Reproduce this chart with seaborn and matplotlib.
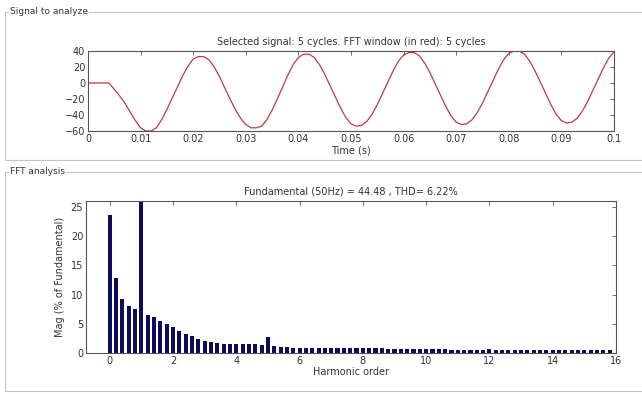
import numpy as np
import pandas as pd
import seaborn as sns
import matplotlib.pyplot as plt
from matplotlib.lines import Line2D
from matplotlib.ticker import FuncFormatter

# ---- data ----
# signal sampled every 1 ms, 0 .. 0.1 s
time_s = np.linspace(0, 0.1, 101)
signal = [
    0, 0, 0, 0, 0, -8, -16, -25, -36, -47,
    -56, -60, -60, -56, -46, -33, -19, -5, 9, 21,
    30, 33, 33, 29, 20, 8, -6, -20, -33, -44,
    -52, -56, -56, -54, -46, -34, -20, -5, 10, 23,
    32, 36, 36, 32, 23, 11, -3, -17, -31, -43,
    -51, -54, -53, -48, -39, -27, -13, 1, 15, 27,
    35, 38, 38, 34, 25, 13, -1, -15, -29, -41,
    -49, -52, -51, -46, -37, -25, -11, 3, 17, 29,
    37, 40, 40, 36, 27, 15, 1, -13, -27, -39,
    -47, -50, -49, -44, -35, -23, -9, 5, 19, 31,
    39,
]

# harmonic orders 0 .. 15.8 in steps of 0.2
harmonic_order = np.round(np.linspace(0, 15.8, 80), 1)
magnitude = [
    23.6, 12.8, 9.2, 8.1, 7.6, 100, 6.5, 6.1, 5.4, 4.9,
    4.4, 3.8, 3.3, 2.9, 2.4, 2.1, 1.9, 1.7, 1.6, 1.6,
    1.6, 1.5, 1.5, 1.5, 1.4, 2.7, 1.2, 1.1, 1.0, 0.9,
    0.9, 0.9, 0.9, 0.9, 0.85, 0.85, 0.85, 0.9, 0.9, 0.9,
    0.85, 0.8, 0.8, 0.8, 0.75, 0.7, 0.7, 0.7, 0.7, 0.7,
    0.75, 0.7, 0.65, 0.6, 0.55, 0.55, 0.55, 0.55, 0.5, 0.45,
    0.6, 0.45, 0.5, 0.55, 0.55, 0.55, 0.55, 0.5, 0.5, 0.45,
    0.55, 0.45, 0.45, 0.45, 0.45, 0.45, 0.45, 0.45, 0.45, 0.45,
]

signal_title = "Selected signal: 5 cycles. FFT window (in red): 5 cycles"
fft_title = "Fundamental (50Hz) = 44.48 , THD= 6.22%"

# ---- style ----
sns.set_theme(style="white")
plt.rcParams["font.family"] = ["DejaVu Sans"]
plt.rcParams["axes.edgecolor"] = "#555555"
plt.rcParams["axes.linewidth"] = 0.8

txt = "#333333"
fs = 7

fig = plt.figure(figsize=(6.42, 3.94), dpi=100)
fig.patch.set_facecolor("white")

# group boxes
box_col = "#c4c4c4"
def group_box(y_top, y_bot, label):
    fig.add_artist(Line2D([5/642, 1], [1 - y_top/394] * 2, color=box_col, lw=0.8))
    fig.add_artist(Line2D([5/642] * 2, [1 - y_top/394, 1 - y_bot/394], color=box_col, lw=0.8))
    fig.add_artist(Line2D([5/642, 1], [1 - y_bot/394] * 2, color=box_col, lw=0.8))
    fig.text(10/642, 1 - y_top/394, label, fontsize=6.5, color=txt, va="center", ha="left",
             bbox=dict(facecolor="white", edgecolor="none", pad=1))

group_box(12, 160, "Signal to analyze")
group_box(172, 391, "FFT analysis")

def matlab_axes(ax):
    ax.tick_params(direction="in", top=True, right=True, length=3, width=0.6,
                   labelsize=fs, labelcolor=txt, colors="#555555", pad=2)
    for s in ax.spines.values():
        s.set_visible(True)
    ax.set_facecolor("white")

# ---- signal ----
ax1 = fig.add_axes([88/642, 1 - 131/394, 526/642, 80/394])
sig_df = pd.DataFrame({"t": time_s, "v": signal})
sns.lineplot(data=sig_df, x="t", y="v", ax=ax1, color="#c23a3a", linewidth=0.9)
ax1.set_xlim(0, 0.1)
ax1.set_ylim(-60, 40)
ax1.set_xticks(np.round(np.arange(0, 0.1001, 0.01), 2))
ax1.set_yticks([-60, -40, -20, 0, 20, 40])
ax1.xaxis.set_major_formatter(FuncFormatter(lambda v, p: f"{v:g}"))
ax1.set_xlabel("Time (s)", fontsize=fs, color=txt, labelpad=1)
ax1.set_ylabel("")
ax1.set_title(signal_title, fontsize=fs, color=txt, pad=4)
matlab_axes(ax1)

# ---- FFT ----
ax2 = fig.add_axes([86/642, 1 - 353/394, 530/642, 152/394])
fft_df = pd.DataFrame({"order": harmonic_order, "mag": magnitude})
sns.barplot(data=fft_df, x="order", y="mag", ax=ax2, native_scale=True,
            width=0.65, color="#0c0c5a", saturation=1, errorbar=None,
            edgecolor="#0c0c5a", linewidth=0)
ax2.set_xlim(-0.75, 16)
ax2.set_ylim(0, 26)
ax2.set_xticks(range(0, 17, 2))
ax2.set_yticks([0, 5, 10, 15, 20, 25])
ax2.set_xlabel("Harmonic order", fontsize=fs, color=txt, labelpad=1)
ax2.set_ylabel("Mag (% of Fundamental)", fontsize=fs, color=txt, labelpad=4)
ax2.set_title(fft_title, fontsize=fs, color=txt, pad=5)
matlab_axes(ax2)

fig.savefig("out.png", dpi=100)
